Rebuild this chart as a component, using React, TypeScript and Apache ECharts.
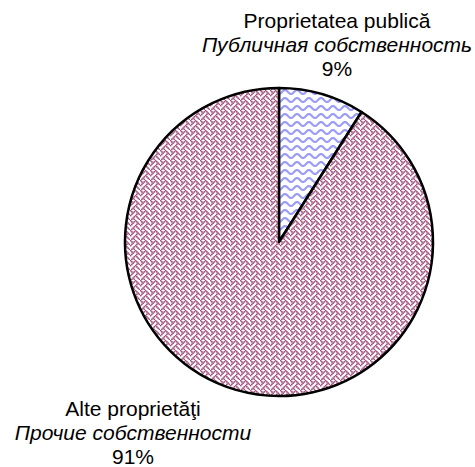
import React, { useEffect, useRef } from "react";
import * as echarts from "echarts";

const categoriesRo = ["Proprietatea publică", "Alte proprietăţi"];
const categoriesRu = ["Публичная собственность", "Прочие собственности"];
const values = [9, 91];

const weaveBits = [0x88, 0x54, 0x22, 0x45, 0x88, 0x14, 0x22, 0x51];

function makeWeave(): HTMLCanvasElement {
  const c = document.createElement("canvas");
  c.width = 10;
  c.height = 10;
  const ctx = c.getContext("2d")!;
  ctx.fillStyle = "#ffffff";
  ctx.fillRect(0, 0, 10, 10);
  ctx.scale(1.25, 1.25);
  ctx.fillStyle = "#a24d7c";
  for (let y = 0; y < 8; y++) {
    for (let x = 0; x < 8; x++) {
      if ((weaveBits[y] >> (7 - x)) & 1) ctx.fillRect(x - 0.15, y - 0.15, 1.3, 1.3);
    }
  }
  return c;
}

function makeWave(): HTMLCanvasElement {
  const c = document.createElement("canvas");
  c.width = 12;
  c.height = 8;
  const ctx = c.getContext("2d")!;
  ctx.fillStyle = "#ffffff";
  ctx.fillRect(0, 0, 12, 8);
  ctx.strokeStyle = "#9c9cf8";
  ctx.lineWidth = 2.2;
  ctx.beginPath();
  for (let x = -1; x <= 13; x += 0.5) {
    const y = 4 + 2 * Math.sin((2 * Math.PI * x) / 12);
    if (x === -1) ctx.moveTo(x, y);
    else ctx.lineTo(x, y);
  }
  ctx.stroke();
  return c;
}

export default function App() {
  const ref = useRef<HTMLDivElement>(null);
  useEffect(() => {
    if (!ref.current) return;
    const chart = echarts.init(ref.current, undefined, { renderer: "svg" });
    const patterns = [makeWave(), makeWeave()];
    const labelPos = [
      { x: 337, y: 44 },
      { x: 133, y: 432 },
    ];
    chart.setOption({
      animation: false,
      backgroundColor: "#ffffff",
      series: [
        {
          type: "pie",
          center: [279, 242],
          radius: 154,
          startAngle: 90,
          clockwise: true,
          avoidLabelOverlap: false,
          emphasis: { disabled: true },
          data: values.map((v, i) => ({
            value: v,
            name: categoriesRo[i],
            itemStyle: {
              color: { image: patterns[i], repeat: "repeat" },
              borderColor: "#000000",
              borderWidth: 2.5,
            },
          })),
          label: {
            show: true,
            position: "outside",
            formatter: (p: any) =>
              `{a|${categoriesRo[p.dataIndex]}}\n{b|${categoriesRu[p.dataIndex]}}\n{a|${values[p.dataIndex]}%}`,
            rich: {
              a: {
                fontFamily: "Liberation Sans, Arial, sans-serif",
                fontSize: 21,
                lineHeight: 24,
                color: "#000000",
                align: "center",
              },
              b: {
                fontFamily: "Liberation Sans, Arial, sans-serif",
                fontSize: 21,
                fontStyle: "italic",
                lineHeight: 24,
                color: "#000000",
                align: "center",
              },
            },
          },
          labelLine: { show: false },
          labelLayout: (params: any) => ({
            x: labelPos[params.dataIndex].x,
            y: labelPos[params.dataIndex].y,
            align: "center",
            verticalAlign: "middle",
            hideOverlap: false,
          }),
        },
      ],
    });
    return () => chart.dispose();
  }, []);
  return (
    <div
      ref={ref}
      style={{ position: "fixed", left: 0, top: 0, width: 475, height: 467 }}
    />
  );
}
